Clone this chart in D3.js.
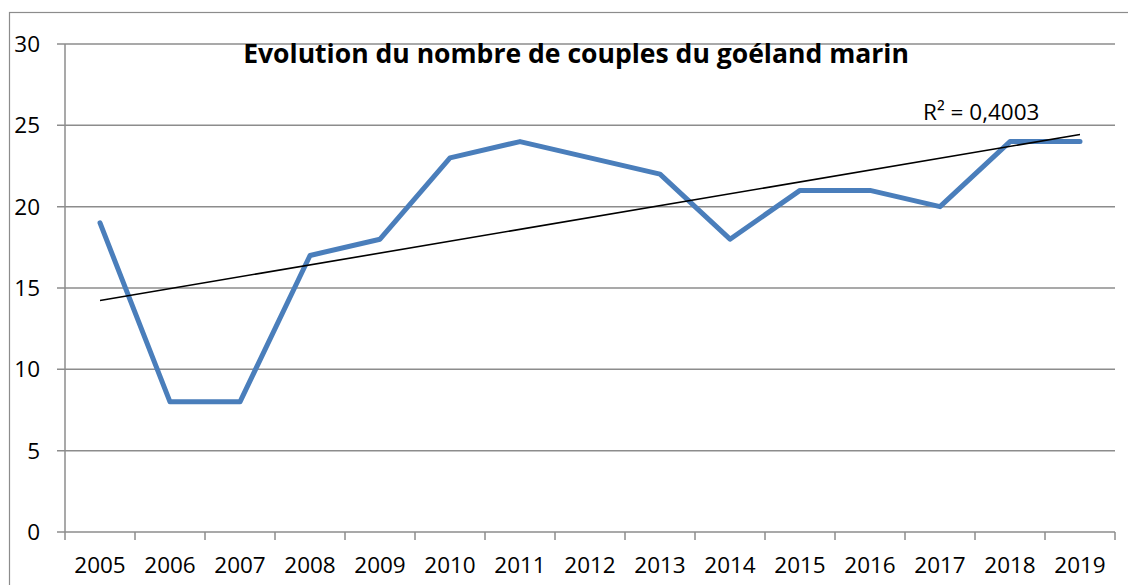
<!DOCTYPE html>
<html>
<head>
<meta charset="utf-8">
<script src="https://cdn.jsdelivr.net/npm/d3@7"></script>
<style>
  body { margin: 0; background: #fff; }
  text { font-family: "Open Sans", "Liberation Sans", sans-serif; fill: #000; }
</style>
</head>
<body>
<div id="chart"></div>
<script>
const YEARS = ["2005", "2006", "2007", "2008", "2009", "2010", "2011", "2012",
               "2013", "2014", "2015", "2016", "2017", "2018", "2019"];
const COUPLES = [19, 8, 8, 17, 18, 23, 24, 23, 22, 18, 21, 21, 20, 24, 24];
const Y_TICKS = [0, 5, 10, 15, 20, 25, 30];
const TITLE = "Evolution du nombre de couples du goéland marin";
const R2_LABEL = "R² = 0,4003";

const FRAME_WIDTH = 1128;
const FRAME_HEIGHT = 585;
const MARGINS = {left: 65, right: 13, top: 44, bottom: 53};
const VIS_WIDTH = FRAME_WIDTH - MARGINS.left - MARGINS.right;
const VIS_HEIGHT = FRAME_HEIGHT - MARGINS.top - MARGINS.bottom;

const GRID = "#8c8c8c";

const svg = d3.select("#chart")
  .append("svg")
    .attr("width", FRAME_WIDTH)
    .attr("height", FRAME_HEIGHT);

// outer chart border (only left and top are visible in the picture)
svg.append("rect")
  .attr("x", 9.5).attr("y", 12.5)
  .attr("width", FRAME_WIDTH + 20).attr("height", FRAME_HEIGHT + 20)
  .attr("fill", "none").attr("stroke", GRID).attr("stroke-width", 1.2);

const X_SCALE = d3.scaleBand()
  .domain(YEARS)
  .range([0, VIS_WIDTH]);

const Y_SCALE = d3.scaleLinear()
  .domain([0, 30])
  .range([VIS_HEIGHT, 0]);

const vis = svg.append("g")
  .attr("transform", "translate(" + MARGINS.left + "," + MARGINS.top + ")");

// horizontal grid lines, extended left as tick marks
vis.append("g")
  .selectAll("line")
  .data(Y_TICKS)
  .enter()
  .append("line")
    .attr("x1", -8)
    .attr("x2", VIS_WIDTH)
    .attr("y1", (d) => Y_SCALE(d))
    .attr("y2", (d) => Y_SCALE(d))
    .attr("stroke", GRID)
    .attr("stroke-width", 1.5);

// y axis line
vis.append("line")
  .attr("x1", 0).attr("x2", 0)
  .attr("y1", Y_SCALE(30)).attr("y2", Y_SCALE(0))
  .attr("stroke", GRID).attr("stroke-width", 1.5);

// y labels
vis.append("g")
  .selectAll("text")
  .data(Y_TICKS)
  .enter()
  .append("text")
    .attr("x", -25)
    .attr("y", (d) => Y_SCALE(d))
    .attr("dy", "0.36em")
    .attr("text-anchor", "end")
    .attr("font-size", "22.5px")
    .text((d) => d);

// x axis ticks between categories
const xTicks = YEARS.map((d) => X_SCALE(d)).concat([VIS_WIDTH]);
vis.append("g")
  .selectAll("line")
  .data(xTicks)
  .enter()
  .append("line")
    .attr("x1", (d) => d).attr("x2", (d) => d)
    .attr("y1", VIS_HEIGHT).attr("y2", VIS_HEIGHT + 8)
    .attr("stroke", GRID).attr("stroke-width", 1.5);

// x labels
vis.append("g")
  .selectAll("text")
  .data(YEARS)
  .enter()
  .append("text")
    .attr("x", (d) => X_SCALE(d) + X_SCALE.bandwidth() / 2)
    .attr("y", VIS_HEIGHT + 41)
    .attr("text-anchor", "middle")
    .attr("font-size", "22.5px")
    .text((d) => d);

// the series
const line = d3.line()
  .x((d, i) => X_SCALE(YEARS[i]) + X_SCALE.bandwidth() / 2)
  .y((d) => Y_SCALE(d));

vis.append("path")
  .datum(COUPLES)
  .attr("d", line)
  .attr("fill", "none")
  .attr("stroke", "#4a7ebb")
  .attr("stroke-width", 5)
  .attr("stroke-linejoin", "round")
  .attr("stroke-linecap", "round");

// linear trend line (least squares on the series)
const n = COUPLES.length;
const xs = d3.range(1, n + 1);
const mx = d3.mean(xs), my = d3.mean(COUPLES);
const sxy = d3.sum(xs, (x, i) => (x - mx) * (COUPLES[i] - my));
const sxx = d3.sum(xs, (x) => (x - mx) * (x - mx));
const slope = sxy / sxx;
const icpt = my - slope * mx;
const trend = [icpt + slope * 1, icpt + slope * n];

vis.append("line")
  .attr("x1", X_SCALE(YEARS[0]) + X_SCALE.bandwidth() / 2)
  .attr("x2", X_SCALE(YEARS[n - 1]) + X_SCALE.bandwidth() / 2)
  .attr("y1", Y_SCALE(trend[0]))
  .attr("y2", Y_SCALE(trend[1]))
  .attr("stroke", "#000")
  .attr("stroke-width", 1.6);

// R² label
svg.append("text")
  .attr("x", 923)
  .attr("y", 120)
  .attr("font-size", "22.5px")
  .text(R2_LABEL);

// title, sized to the width seen in the picture
const title = svg.append("text")
  .attr("x", 576)
  .attr("y", 63)
  .attr("text-anchor", "middle")
  .attr("font-weight", "bold")
  .attr("font-size", "26px")
  .text(TITLE);
const tw = title.node().getComputedTextLength();
title.attr("font-size", (26 * 666 / tw) + "px");
</script>
</body>
</html>
